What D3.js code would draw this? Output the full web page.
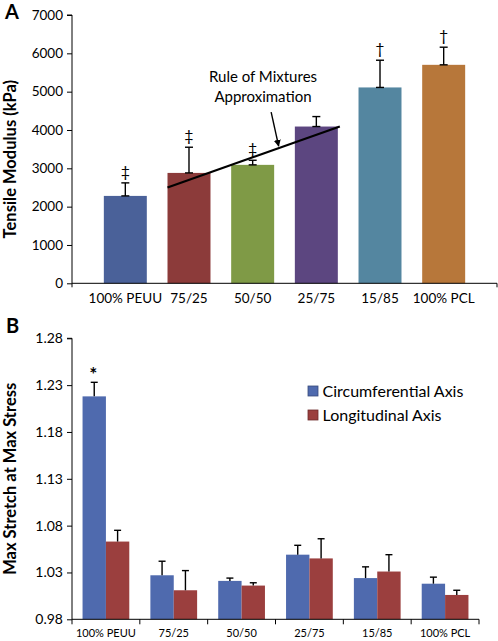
<!DOCTYPE html>
<html>
<head>
<meta charset="utf-8">
<script src="https://cdn.jsdelivr.net/npm/d3@7"></script>
<style>
  html, body { margin: 0; padding: 0; background: #fff; }
  svg { display: block; }
  text { font-family: Lato, "Open Sans", sans-serif; fill: #000; }
</style>
</head>
<body>
<svg id="chart" width="498" height="641"></svg>
<script>
// ---------- Data ----------
const categories = ["100% PEUU", "75/25", "50/50", "25/75", "15/85", "100% PCL"];

// Panel A: tensile modulus (kPa)
const modulusMean = [2280, 2880, 3090, 4090, 5110, 5700];
const modulusErr  = [340, 670, 120, 260, 710, 460];
const modulusMarks = ["‡", "‡", "‡", "", "†", "†"];
const modulusColors = ["#4a6199", "#8c3b3a", "#7f9a46", "#5c4680", "#5486a0", "#b7773a"];
const modulusTicks = [0, 1000, 2000, 3000, 4000, 5000, 6000, 7000];

// Rule of mixtures approximation line (from 75/25 to 25/75)
const ruleCats = ["75/25", "25/75"];
const ruleValues = [2500, 4090];

// Panel B: max stretch at max stress
const seriesNames = ["Circumferential Axis", "Longitudinal Axis"];
const seriesColors = ["#4f6aae", "#9b3f3e"];
const circMean = [1.218, 1.027, 1.021, 1.049, 1.024, 1.018];
const circErr  = [0.015, 0.015, 0.003, 0.010, 0.012, 0.007];
const longMean = [1.063, 1.011, 1.016, 1.045, 1.031, 1.006];
const longErr  = [0.012, 0.021, 0.003, 0.021, 0.018, 0.005];
const stretchMarks = [["*", ""], ["", ""], ["", ""], ["", ""], ["", ""], ["", ""]];
const stretchTicks = [0.98, 1.03, 1.08, 1.13, 1.18, 1.23, 1.28];

// ---------- Drawing ----------
const svg = d3.select("#chart");

// ===== Panel A =====
const gA = svg.append("g");
const xA = d3.scaleBand().domain(categories).range([72, 497]).paddingInner(0.325).paddingOuter(0.5);
const yA = d3.scaleLinear().domain([0, 7000]).range([283.3, 15]);

gA.selectAll("rect.bar").data(categories).join("rect")
  .attr("x", d => xA(d)).attr("width", xA.bandwidth())
  .attr("y", (d, i) => yA(modulusMean[i]))
  .attr("height", (d, i) => yA(0) - yA(modulusMean[i]))
  .attr("fill", (d, i) => modulusColors[i]);

const capA = 8;
categories.forEach((c, i) => {
  const cx = xA(c) + xA.bandwidth() / 2;
  const y0 = yA(modulusMean[i]), y1 = yA(modulusMean[i] + modulusErr[i]);
  const eg = gA.append("g").attr("stroke", "#000").attr("stroke-width", 1.4);
  eg.append("line").attr("x1", cx).attr("x2", cx).attr("y1", y0).attr("y2", y1);
  eg.append("line").attr("x1", cx - capA/2).attr("x2", cx + capA/2).attr("y1", y1).attr("y2", y1);
  eg.append("line").attr("x1", cx - capA/2).attr("x2", cx + capA/2).attr("y1", y0).attr("y2", y0);
  if (modulusMarks[i]) {
    gA.append("text").attr("x", cx).attr("y", y1 - 6)
      .attr("text-anchor", "middle").attr("font-size", 16)
      .text(modulusMarks[i]);
  }
});

const axAy = gA.append("g").attr("transform", "translate(72,0)")
  .call(d3.axisLeft(yA).tickValues(modulusTicks).tickSize(5).tickPadding(4).tickFormat(d3.format("d")));
axAy.selectAll("text").attr("font-size", 13.5).attr("font-family", "Lato");
axAy.select(".domain").attr("d", `M-5,${yA(7000)}H0V${yA(0)}`);

const axAx = gA.append("g").attr("transform", `translate(0,${yA(0)})`)
  .call(d3.axisBottom(xA).tickSize(0).tickPadding(10));
axAx.selectAll("text").attr("font-size", 13.5).attr("font-family", "Lato");
axAx.select(".domain").attr("d", "M72,4V0H497V4");

gA.append("text").attr("transform", `translate(16,${(yA(0)+yA(7000))/2 + 10}) rotate(-90)`)
  .attr("text-anchor", "middle").attr("font-weight", "bold").attr("font-size", 16.5)
  .text("Tensile Modulus (kPa)");

gA.append("text").attr("x", 5).attr("y", 19).attr("font-weight", "bold").attr("font-size", 20).text("A");

// Rule of mixtures line
const rp = ruleCats.map((c, i) => [i === 0 ? xA(c) : xA(c) + xA.bandwidth() + 2, yA(ruleValues[i])]);
gA.append("line").attr("x1", rp[0][0]).attr("y1", rp[0][1]).attr("x2", rp[1][0]).attr("y2", rp[1][1])
  .attr("stroke", "#000").attr("stroke-width", 2.2);

const tip = [rp[0][0] + 0.645 * (rp[1][0] - rp[0][0]), rp[0][1] + 0.645 * (rp[1][1] - rp[0][1]) - 2];
const tail = [tip[0] - 7.5, tip[1] - 34];
svg.append("defs").append("marker").attr("id", "arrow").attr("viewBox", "0 0 10 10")
  .attr("refX", 9).attr("refY", 5).attr("markerWidth", 5).attr("markerHeight", 5)
  .attr("orient", "auto").attr("markerUnits", "strokeWidth")
  .append("path").attr("d", "M0,0L10,5L0,10z").attr("fill", "#000");
gA.append("line").attr("x1", tail[0]).attr("y1", tail[1]).attr("x2", tip[0]).attr("y2", tip[1])
  .attr("stroke", "#000").attr("stroke-width", 1.4).attr("marker-end", "url(#arrow)");
const ann = gA.append("text").attr("text-anchor", "middle").attr("font-size", 15);
ann.append("tspan").attr("x", 263).attr("y", 82).text("Rule of Mixtures");
ann.append("tspan").attr("x", 263).attr("y", 102).text("Approximation");

// ===== Panel B =====
const gB = svg.append("g");
const xB = d3.scaleBand().domain(categories).range([72, 479]).paddingInner(0.311).paddingOuter(0.1555);
const xSub = d3.scaleBand().domain(seriesNames).range([0, xB.bandwidth()]);
const yB = d3.scaleLinear().domain([0.98, 1.28]).range([619.3, 338.3]);

const bData = categories.map((c, i) => ({
  cat: c,
  vals: [
    { s: seriesNames[0], m: circMean[i], e: circErr[i], mark: stretchMarks[i][0], col: seriesColors[0] },
    { s: seriesNames[1], m: longMean[i], e: longErr[i], mark: stretchMarks[i][1], col: seriesColors[1] }
  ]
}));

const groups = gB.selectAll("g.grp").data(bData).join("g")
  .attr("transform", d => `translate(${xB(d.cat)},0)`);
groups.selectAll("rect").data(d => d.vals).join("rect")
  .attr("x", d => xSub(d.s)).attr("width", xSub.bandwidth())
  .attr("y", d => yB(d.m)).attr("height", d => yB(0.98) - yB(d.m))
  .attr("fill", d => d.col);

const capB = 7;
groups.each(function(d) {
  const g = d3.select(this);
  d.vals.forEach(v => {
    const cx = xSub(v.s) + xSub.bandwidth() / 2;
    const y0 = yB(v.m), y1 = yB(v.m + v.e);
    g.append("line").attr("x1", cx).attr("x2", cx).attr("y1", y0).attr("y2", y1)
      .attr("stroke", "#000").attr("stroke-width", 1.4);
    g.append("line").attr("x1", cx - capB/2).attr("x2", cx + capB/2).attr("y1", y1).attr("y2", y1)
      .attr("stroke", "#000").attr("stroke-width", 1.4);
    if (v.mark) {
      g.append("text").attr("x", cx - 1).attr("y", y1 - 1)
        .attr("text-anchor", "middle").attr("font-size", 19).attr("font-weight", "bold")
        .text(v.mark);
    }
  });
});

const axBy = gB.append("g").attr("transform", "translate(72,0)")
  .call(d3.axisLeft(yB).tickValues(stretchTicks).tickSize(5).tickPadding(4).tickFormat(d3.format(".2f")));
axBy.selectAll("text").attr("font-size", 14).attr("font-family", "Lato");
axBy.select(".domain").attr("d", `M-5,${yB(1.28)}H0V${yB(0.98)}`);

const axBx = gB.append("g").attr("transform", `translate(0,${yB(0.98)})`)
  .call(d3.axisBottom(xB).tickSize(0).tickPadding(10));
axBx.selectAll("text").attr("font-size", 11).attr("font-family", "Lato");
axBx.select(".domain").remove();
const bounds = categories.map(c => xB(c) - xB.step() * xB.paddingInner() / 2);
bounds.push(479);
bounds[0] = 72;
axBx.append("path").attr("fill", "none").attr("stroke", "#000")
  .attr("d", `M72,0H479` + bounds.map(b => `M${b},0V5`).join(""));

gB.append("text").attr("transform", `translate(16,${(yB(0.98)+yB(1.28))/2}) rotate(-90)`)
  .attr("text-anchor", "middle").attr("font-weight", "bold").attr("font-size", 16.5)
  .text("Max Stretch at Max Stress");

gB.append("text").attr("x", 6).attr("y", 333).attr("font-weight", "bold").attr("font-size", 20).text("B");

const leg = gB.append("g").attr("transform", "translate(308,386)");
seriesNames.forEach((s, i) => {
  const r = leg.append("g").attr("transform", `translate(0,${i * 24})`);
  r.append("rect").attr("width", 10).attr("height", 10).attr("fill", seriesColors[i])
    .attr("stroke", d3.color(seriesColors[i]).darker(1)).attr("stroke-width", 0.8);
  r.append("text").attr("x", 14.5).attr("y", 10.5).attr("font-size", 16).text(s);
});
</script>
</body>
</html>
